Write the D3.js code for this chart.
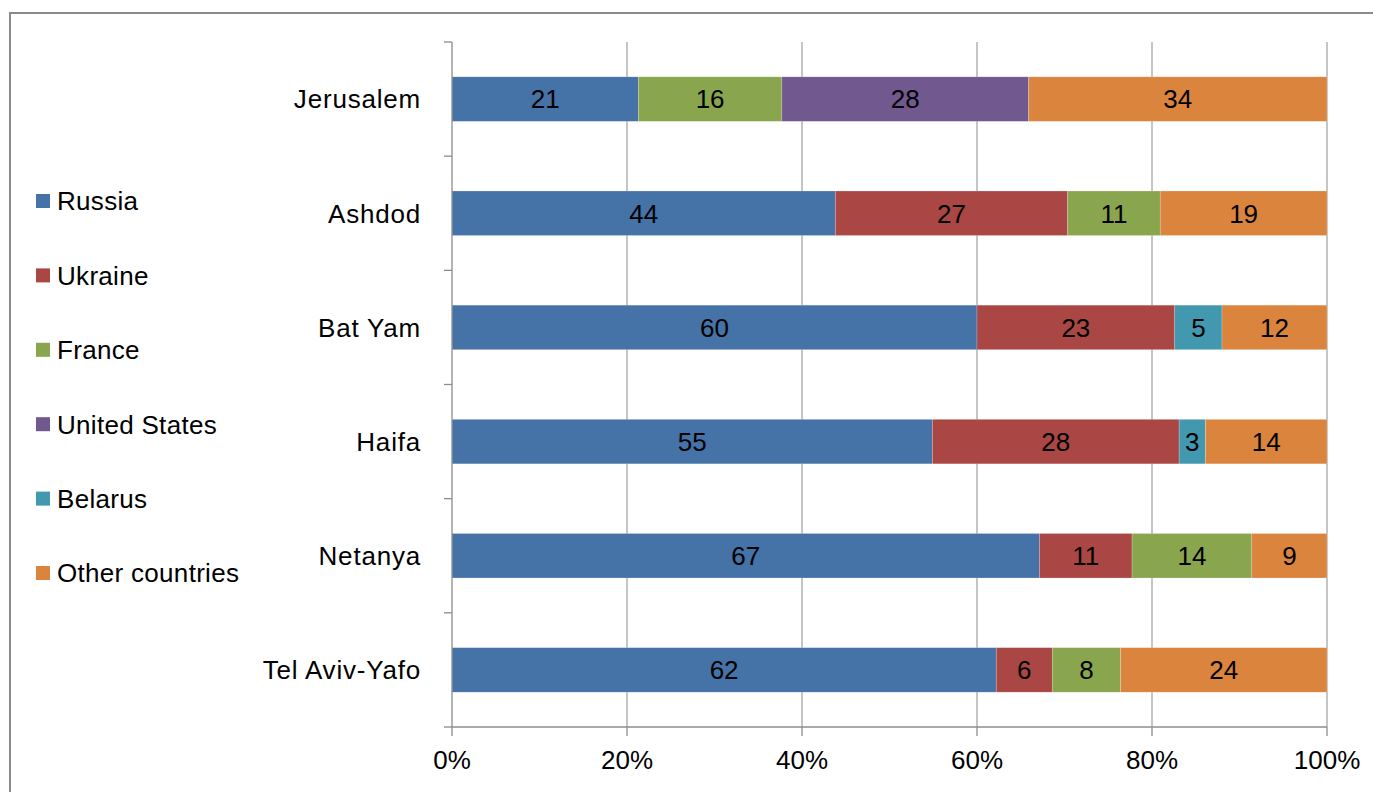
<!DOCTYPE html>
<html>
<head>
<meta charset="utf-8">
<script src="https://cdn.jsdelivr.net/npm/d3@7"></script>
<style>
  html, body { margin: 0; padding: 0; background: #fff; }
  svg { display: block; font-family: "Liberation Sans", Arial, sans-serif; }
</style>
</head>
<body>
<svg id="chart" width="1373" height="792"></svg>
<script>
// ---- data (percent shares, labels shown rounded) ----
const cities = ["Jerusalem", "Ashdod", "Bat Yam", "Haifa", "Netanya", "Tel Aviv-Yafo"];
const seriesNames = ["Russia", "Ukraine", "France", "United States", "Belarus", "Other countries"];
const russia   = [21.3, 43.9, 60.0, 54.9, 67.2, 62.2];
const ukraine  = [null, 26.6, 22.6, 28.2, 10.6, 6.4];
const france   = [16.4, 10.6, null, null, 13.7, 7.8];
const usa      = [28.2, null, null, null, null, null];
const belarus  = [null, null, 5.4, 3.0, null, null];
const other    = [34.1, 19.1, 12.0, 13.9, 8.6, 23.6];
const colors   = ["#4572A7", "#AA4643", "#89A54E", "#71588F", "#4198AF", "#DB843D"];
const xTicks   = [0, 0.2, 0.4, 0.6, 0.8, 1];

const seriesValues = [russia, ukraine, france, usa, belarus, other];
const rows = cities.map((c, i) => {
  const r = { city: c };
  seriesNames.forEach((s, j) => { r[s] = seriesValues[j][i] || 0; });
  return r;
});

// ---- layout ----
const svg = d3.select("#chart");
const plotL = 452, plotR = 1327, plotT = 42, plotB = 727;

// frame
svg.append("rect").attr("x", 10).attr("y", 13).attr("width", 1400).attr("height", 900)
  .attr("fill", "none").attr("stroke", "#8a8a8a").attr("stroke-width", 2);

const x = d3.scaleLinear().domain([0, 1]).range([plotL, plotR]);
const y = d3.scaleBand().domain(cities).range([plotT, plotB]).paddingInner(0.61).paddingOuter(0.305);

// gridlines
svg.append("g").selectAll("line").data(xTicks.slice(1)).join("line")
  .attr("x1", d => x(d)).attr("x2", d => x(d))
  .attr("y1", plotT).attr("y2", plotB)
  .attr("stroke", "#a6a6a6").attr("stroke-width", 1.3);

// stacked bars (100%)
const stack = d3.stack().keys(seriesNames).offset(d3.stackOffsetExpand);
const stacked = stack(rows);

const layers = svg.append("g").selectAll("g").data(stacked).join("g")
  .attr("fill", (d, i) => colors[i]);

layers.selectAll("rect").data(d => d.filter(p => p[1] - p[0] > 0)).join("rect")
  .attr("x", d => x(d[0]))
  .attr("width", d => x(d[1]) - x(d[0]))
  .attr("y", d => y(d.data.city))
  .attr("height", y.bandwidth())
  .attr("stroke", "rgba(255,255,255,0.35)").attr("stroke-width", 0.6);

// data labels
const fmt = d3.format(".0f");
stacked.forEach((layer) => {
  svg.append("g").selectAll("text").data(layer.filter(p => p[1] - p[0] > 0)).join("text")
    .attr("x", d => (x(d[0]) + x(d[1])) / 2)
    .attr("y", d => y(d.data.city) + y.bandwidth() / 2)
    .attr("text-anchor", "middle").attr("dy", "0.36em")
    .attr("font-size", 26).attr("fill", "#000")
    .text(d => fmt(d.data[layer.key]));
});

// y axis line + ticks at band boundaries
const axisColor = "#8c8c8c";
svg.append("line").attr("x1", plotL).attr("x2", plotL).attr("y1", plotT).attr("y2", plotB)
  .attr("stroke", axisColor).attr("stroke-width", 1.3);
const bounds = d3.range(cities.length + 1).map(i => plotT + i * y.step());
svg.append("g").selectAll("line").data(bounds).join("line")
  .attr("x1", plotL - 8).attr("x2", plotL)
  .attr("y1", d => d).attr("y2", d => d)
  .attr("stroke", axisColor).attr("stroke-width", 1.3);

// category labels
svg.append("g").selectAll("text").data(cities).join("text")
  .attr("x", 421).attr("y", d => y(d) + y.bandwidth() / 2)
  .attr("text-anchor", "end").attr("dy", "0.36em")
  .attr("font-size", 26).attr("letter-spacing", "0.8px").attr("fill", "#000")
  .text(d => d);

// x axis
svg.append("line").attr("x1", plotL).attr("x2", plotR).attr("y1", plotB).attr("y2", plotB)
  .attr("stroke", axisColor).attr("stroke-width", 1.3);
svg.append("g").selectAll("line").data(xTicks).join("line")
  .attr("x1", d => x(d)).attr("x2", d => x(d))
  .attr("y1", plotB).attr("y2", plotB + 9)
  .attr("stroke", axisColor).attr("stroke-width", 1.3);
svg.append("g").selectAll("text").data(xTicks).join("text")
  .attr("x", d => x(d)).attr("y", 760)
  .attr("text-anchor", "middle").attr("dy", "0.36em")
  .attr("font-size", 26).attr("fill", "#000")
  .text(d => d3.format(".0%")(d));

// legend
const legY0 = 201, legStep = 74.4;
const leg = svg.append("g").selectAll("g").data(seriesNames).join("g")
  .attr("transform", (d, i) => `translate(36,${legY0 + i * legStep})`);
leg.append("rect").attr("x", 0).attr("y", -7).attr("width", 14).attr("height", 14)
  .attr("fill", (d, i) => colors[i]);
leg.append("text").attr("x", 21).attr("y", 0).attr("dy", "0.36em")
  .attr("font-size", 26).attr("letter-spacing", "0.3px").attr("fill", "#000")
  .text(d => d);
</script>
</body>
</html>
